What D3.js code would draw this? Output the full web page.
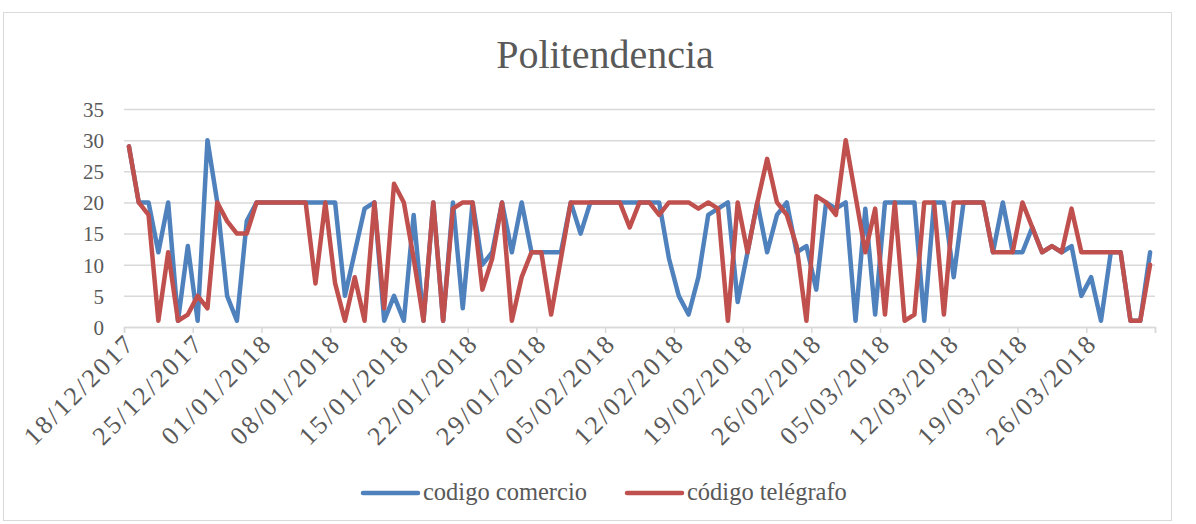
<!DOCTYPE html>
<html>
<head>
<meta charset="utf-8">
<script src="https://cdn.jsdelivr.net/npm/d3@7"></script>
<style>
  html, body { margin: 0; padding: 0; background: #fff; }
  svg { display: block; }
  text { font-family: "Liberation Serif", "DejaVu Serif", serif; fill: #595959; }
</style>
</head>
<body>
<svg id="chart" width="1196" height="524"></svg>
<script>
// ---- data ----
const startDate = "18/12/2017";
const dayCount = 105;
const comercio = [29,20,20,12,20,1,13,1,30,20,5,1,17,20,20,20,20,20,20,20,20,20,5,12,19,20,1,5,1,18,
  1,20,1,20,3,20,10,12,20,12,20,12,12,12,12,20,15,20,20,20,20,20,20,20,20,11,5,2,8,18,
  19,20,4,12,20,12,18,20,12,13,6,20,19,20,1,19,2,20,20,20,20,1,20,20,8,20,20,20,12,20,
  12,12,16,12,13,12,13,5,8,1,12,12,1,1,12];
const telegrafo = [29,20,18,1,12,1,2,5,3,20,17,15,15,20,20,20,20,20,20,7,20,7,1,8,1,20,3,23,20,11,
  1,20,1,19,20,20,6,11,20,1,8,12,12,2,11,20,20,20,20,20,20,16,20,20,18,20,20,20,19,20,
  19,1,20,12,20,27,20,18,13,1,21,20,18,30,21,12,19,2,20,1,2,20,20,2,20,20,20,20,12,12,
  12,20,16,12,13,12,19,12,12,12,12,12,1,1,10];
const tickLabels = ["18/12/2017","25/12/2017","01/01/2018","08/01/2018","15/01/2018","22/01/2018",
  "29/01/2018","05/02/2018","12/02/2018","19/02/2018","26/02/2018","05/03/2018","12/03/2018",
  "19/03/2018","26/03/2018"];
const yTicks = [0,5,10,15,20,25,30,35];
const seriesNames = ["codigo comercio", "código telégrafo"];
const colors = ["#4f81bd", "#c0504d"];

// ---- setup ----
const parse = d3.timeParse("%d/%m/%Y");
const t0 = parse(startDate);
const dates = d3.range(dayCount).map(i => d3.timeDay.offset(t0, i));
const svg = d3.select("#chart");

const L = 124, R = 1155, T = 109, B = 327;
const x = d3.scaleTime().domain([t0, d3.timeDay.offset(t0, dayCount)]).range([L, R]);
const y = d3.scaleLinear().domain([0, 35]).range([B, T]);
const xc = d => x(d3.timeHour.offset(d, 12));

// chart border
svg.append("rect").attr("x", 3.5).attr("y", 12.5).attr("width", 1168).attr("height", 508)
  .attr("fill", "none").attr("stroke", "#d9d9d9").attr("stroke-width", 1);

// title
svg.append("text").attr("x", 605).attr("y", 68).attr("text-anchor", "middle")
  .style("font-size", "40px").text("Politendencia");

// y axis + gridlines
const gy = svg.append("g").attr("transform", `translate(${L},0)`)
  .call(d3.axisLeft(y).tickValues(yTicks).tickSize(-(R - L)).tickPadding(10));
gy.select(".domain").remove();
gy.selectAll(".tick line").attr("stroke", "#d9d9d9").attr("stroke-width", 1.5);
gy.selectAll(".tick text").style("font-size", "21px").attr("fill", "#595959")
  .attr("x", -20).attr("dy", "0.35em");

// x axis
const tickDates = tickLabels.map(parse);
const gx = svg.append("g").attr("transform", `translate(0,${B})`)
  .call(d3.axisBottom(x).tickValues(tickDates.concat([d3.timeDay.offset(t0, dayCount)])).tickSize(6).tickFormat(""));
gx.select(".domain").attr("stroke", "#d9d9d9").attr("stroke-width", 1.5);
gx.selectAll(".tick line").attr("stroke", "#d9d9d9").attr("stroke-width", 1.5);

svg.append("g").selectAll("text").data(tickLabels).join("text")
  .attr("transform", d => `translate(${x(parse(d)) + 6},${B + 11}) rotate(-45)`)
  .attr("text-anchor", "end").attr("dy", "0.35em")
  .style("font-size", "26px").style("letter-spacing", "2.6px").text(d => d);

// lines
const line = d3.line().x((d, i) => xc(dates[i])).y(d => y(d)).curve(d3.curveLinear);
[comercio, telegrafo].forEach((s, k) => {
  svg.append("path").datum(s).attr("d", line).attr("fill", "none")
    .attr("stroke", colors[k]).attr("stroke-width", 4.5)
    .attr("stroke-linejoin", "round").attr("stroke-linecap", "round");
});

// legend
const legendX = [363, 627];
seriesNames.forEach((n, k) => {
  svg.append("line").attr("x1", legendX[k]).attr("x2", legendX[k] + 55)
    .attr("y1", 493).attr("y2", 493).attr("stroke", colors[k]).attr("stroke-width", 4.5)
    .attr("stroke-linecap", "round");
  svg.append("text").attr("x", legendX[k] + 60).attr("y", 500)
    .style("font-size", "24.5px").text(n);
});
</script>
</body>
</html>
